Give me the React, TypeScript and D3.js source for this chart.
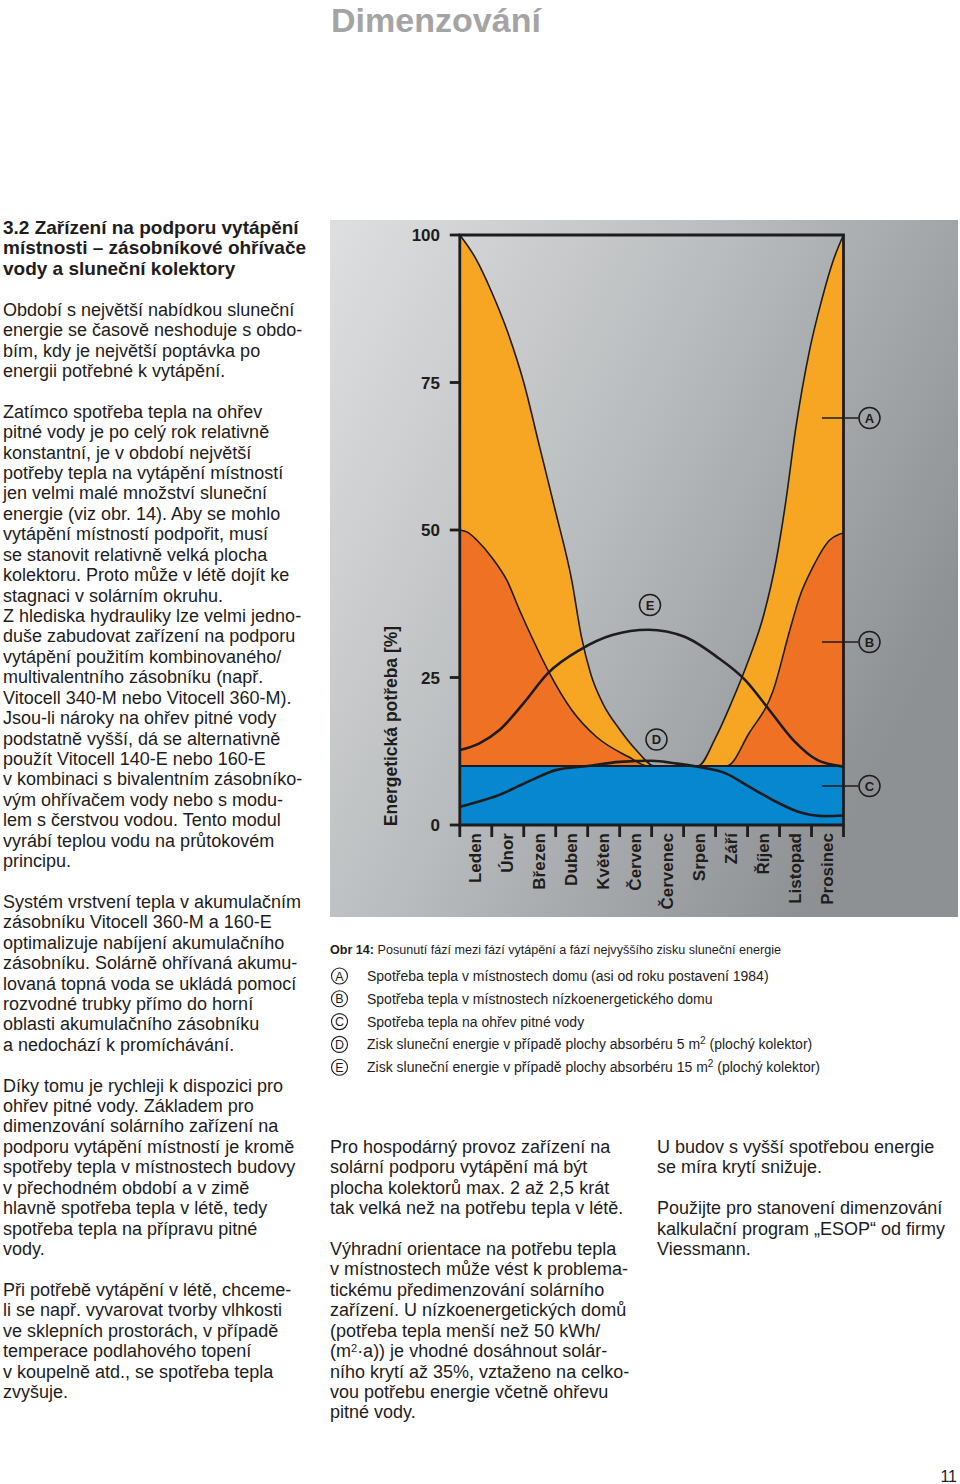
import React from 'react';
import * as d3 from 'd3';

// ---------- DATA ----------
const months = ['Leden', 'Únor', 'Březen', 'Duben', 'Květen', 'Červen', 'Červenec', 'Srpen', 'Září', 'Říjen', 'Listopad', 'Prosinec'];
const yTicks = [0, 25, 50, 75, 100];

// [month position 0..12, percent]
const seriesA: [number, number][] = [
  [0, 100], [0.5, 96], [1.0, 90.3], [1.5, 83.5], [2.0, 75], [2.5, 64], [3.0, 53], [3.5, 41.5], [3.8, 32],
  [4.1, 25.5], [4.5, 20.3], [5.0, 16.2], [5.5, 12.8], [6.1, 10], [7.45, 10], [8.0, 14.8], [8.5, 20.8],
  [9.0, 27.5], [9.5, 35.5], [9.9, 45], [10.2, 55], [10.5, 67], [10.94, 80.5], [11.32, 89], [11.7, 96], [12, 100],
];
const seriesB: [number, number][] = [
  [0, 50], [0.25, 49.6], [0.53, 48.3], [1.05, 45], [1.47, 41.5], [1.87, 36.4], [2.29, 31.4], [2.75, 26.3],
  [3.5, 19.5], [4.26, 15], [5.26, 11.6], [5.9, 10], [8.35, 10], [9.05, 15.6], [9.8, 22.8], [10.32, 33],
  [10.63, 38.7], [11.05, 43.8], [11.57, 48.3], [11.87, 49.3], [12, 49.5],
];
const seriesC: [number, number][] = [[0, 10], [6, 10], [12, 10]];
const seriesD: [number, number][] = [
  [0, 3.1], [0.6, 4], [1.24, 5.1], [1.8, 6.5], [2.24, 7.6], [3.0, 9.3], [4.0, 10], [5.0, 10.7], [6.0, 10.9],
  [6.8, 10.4], [7.4, 9.9], [8.3, 8.8], [9.05, 6.5], [9.8, 4.2], [10.56, 2.3], [11.44, 1.5], [12, 1.6],
];
const seriesE: [number, number][] = [
  [0, 12.7], [0.6, 13.8], [1.24, 16.1], [1.99, 20.6], [2.75, 25.7], [3.76, 29.7], [4.77, 32.2], [5.9, 33.1],
  [7.03, 31.9], [8.04, 28.5], [8.92, 24.6], [9.68, 19.5], [10.43, 14.4], [11.19, 11], [12, 9.9],
];

const legendKeys = ['A', 'B', 'C', 'D', 'E'];
const legendTexts = [
  'Spotřeba tepla v místnostech domu (asi od roku postavení 1984)',
  'Spotřeba tepla v místnostech nízkoenergetického domu',
  'Spotřeba tepla na ohřev pitné vody',
  'Zisk sluneční energie v případě plochy absorbéru 5 m|2| (plochý kolektor)',
  'Zisk sluneční energie v případě plochy absorbéru 15 m|2| (plochý kolektor)',
];

const leftColumn: [number, string, boolean?][] = [
  [0, '3.2 Zařízení na podporu vytápění', true],
  [1, 'místnosti – zásobníkové ohřívače', true],
  [2, 'vody a sluneční kolektory', true],
  [4, 'Období s největší nabídkou sluneční'],
  [5, 'energie se časově neshoduje s obdo-'],
  [6, 'bím, kdy je největší poptávka po'],
  [7, 'energii potřebné k vytápění.'],
  [9, 'Zatímco spotřeba tepla na ohřev'],
  [10, 'pitné vody je po celý rok relativně'],
  [11, 'konstantní, je v období největší'],
  [12, 'potřeby tepla na vytápění místností'],
  [13, 'jen velmi malé množství sluneční'],
  [14, 'energie (viz obr. 14). Aby se mohlo'],
  [15, 'vytápění místností podpořit, musí'],
  [16, 'se stanovit relativně velká plocha'],
  [17, 'kolektoru. Proto může v létě dojít ke'],
  [18, 'stagnaci v solárním okruhu.'],
  [19, 'Z hlediska hydrauliky lze velmi jedno-'],
  [20, 'duše zabudovat zařízení na podporu'],
  [21, 'vytápění použitím kombinovaného/'],
  [22, 'multivalentního zásobníku (např.'],
  [23, 'Vitocell 340-M nebo Vitocell 360-M).'],
  [24, 'Jsou-li nároky na ohřev pitné vody'],
  [25, 'podstatně vyšší, dá se alternativně'],
  [26, 'použít Vitocell 140-E nebo 160-E'],
  [27, 'v kombinaci s bivalentním zásobníko-'],
  [28, 'vým ohřívačem vody nebo s modu-'],
  [29, 'lem s čerstvou vodou. Tento modul'],
  [30, 'vyrábí teplou vodu na průtokovém'],
  [31, 'principu.'],
  [33, 'Systém vrstvení tepla v akumulačním'],
  [34, 'zásobníku Vitocell 360-M a 160-E'],
  [35, 'optimalizuje nabíjení akumulačního'],
  [36, 'zásobníku. Solárně ohřívaná akumu-'],
  [37, 'lovaná topná voda se ukládá pomocí'],
  [38, 'rozvodné trubky přímo do horní'],
  [39, 'oblasti akumulačního zásobníku'],
  [40, 'a nedochází k promíchávání.'],
  [42, 'Díky tomu je rychleji k dispozici pro'],
  [43, 'ohřev pitné vody. Základem pro'],
  [44, 'dimenzování solárního zařízení na'],
  [45, 'podporu vytápění místností je kromě'],
  [46, 'spotřeby tepla v místnostech budovy'],
  [47, 'v přechodném období a v zimě'],
  [48, 'hlavně spotřeba tepla v létě, tedy'],
  [49, 'spotřeba tepla na přípravu pitné'],
  [50, 'vody.'],
  [52, 'Při potřebě vytápění v létě, chceme-'],
  [53, 'li se např. vyvarovat tvorby vlhkosti'],
  [54, 've sklepních prostorách, v případě'],
  [55, 'temperace podlahového topení'],
  [56, 'v koupelně atd., se spotřeba tepla'],
  [57, 'zvyšuje.'],
];

const midColumn: [number, string][] = [
  [45, 'Pro hospodárný provoz zařízení na'],
  [46, 'solární podporu vytápění má být'],
  [47, 'plocha kolektorů max. 2 až 2,5 krát'],
  [48, 'tak velká než na potřebu tepla v létě.'],
  [50, 'Výhradní orientace na potřebu tepla'],
  [51, 'v místnostech může vést k problema-'],
  [52, 'tickému předimenzování solárního'],
  [53, 'zařízení. U nízkoenergetických domů'],
  [54, '(potřeba tepla menší než 50 kWh/'],
  [55, '(m|2|·a)) je vhodné dosáhnout solár-'],
  [56, 'ního krytí až 35%, vztaženo na celko-'],
  [57, 'vou potřebu energie včetně ohřevu'],
  [58, 'pitné vody.'],
];

const rightColumn: [number, string][] = [
  [45, 'U budov s vyšší spotřebou energie'],
  [46, 'se míra krytí snižuje.'],
  [48, 'Použijte pro stanovení dimenzování'],
  [49, 'kalkulační program „ESOP“ od firmy'],
  [50, 'Viessmann.'],
];

// ---------- LAYOUT ----------
const FONT = "'Liberation Sans', Arial, Helvetica, sans-serif";
const INK = '#1e1c1c';
const LINE0 = 234;
const LH = 20.42;

function renderSup(s: string, supSize: number) {
  const parts = s.split('|');
  return parts.map((p, i) =>
    i % 2 === 1 ? (
      <tspan key={i} fontSize={supSize} dy={-5}>{p}</tspan>
    ) : (
      <tspan key={i} dy={i > 0 ? 5 : 0}>{p}</tspan>
    )
  );
}

export default function App() {
  const x = d3.scaleLinear().domain([0, 12]).range([459.8, 843.5]);
  const y = d3.scaleLinear().domain([0, 100]).range([825, 235]);
  const band = d3.scaleBand<string>().domain(months).range([459.8, 843.5]);

  const area = d3.area<[number, number]>()
    .x((d) => x(d[0]))
    .y0(y(0))
    .y1((d) => y(d[1]))
    .curve(d3.curveMonotoneX);
  const line = d3.line<[number, number]>()
    .x((d) => x(d[0]))
    .y((d) => y(d[1]))
    .curve(d3.curveMonotoneX);

  const boundaries = months.map((m) => band(m) as number).concat([x(12)]);

  const calloutX1 = 822, calloutX2 = 858.5, calloutCx = 869.5;
  const callouts: [string, number][] = [['A', 418], ['B', 642], ['C', 786]];

  return (
    <svg width={960} height={1484} style={{ position: 'absolute', left: 0, top: 0, background: '#fff' }} fontFamily={FONT}>
      <defs>
        <linearGradient id="bg" x1="0" y1="0" x2="1" y2="0.55">
          <stop offset="0" stopColor="#DEDFE0" />
          <stop offset="0.5" stopColor="#B9BCBE" />
          <stop offset="1" stopColor="#8E9194" />
        </linearGradient>
      </defs>

      {/* Page title */}
      <text x={331} y={32} fontSize={34} fontWeight="bold" fill="#A4A4A4" textLength={210} lengthAdjust="spacingAndGlyphs">Dimenzování</text>

      {/* Left column */}
      {leftColumn.map(([k, t, b]) => (
        <text key={'l' + k} x={3} y={LINE0 + k * LH} fontSize={b ? 19 : 18} fontWeight={b ? 'bold' : 'normal'} fill={INK}>{t}</text>
      ))}

      {/* Chart panel */}
      <rect x={330} y={220} width={628} height={697} fill="url(#bg)" />

      <path d={area(seriesA) as string} fill="#F6A623" />
      <path d={area(seriesB) as string} fill="#EF7124" />
      <path d={area(seriesC) as string} fill="#0787CF" />

      <path d={line(seriesA) as string} fill="none" stroke={INK} strokeWidth={1.6} />
      <path d={line(seriesB) as string} fill="none" stroke={INK} strokeWidth={1.6} />
      <path d={line(seriesC) as string} fill="none" stroke={INK} strokeWidth={2.2} />
      <path d={line(seriesD) as string} fill="none" stroke={INK} strokeWidth={2.6} />
      <path d={line(seriesE) as string} fill="none" stroke={INK} strokeWidth={2.6} />

      {/* Frame */}
      <path d={`M${x(0)},${y(0)}V${y(100)}H${x(12)}V${y(0)}Z`} fill="none" stroke={INK} strokeWidth={2.8} />

      {/* Y ticks */}
      {yTicks.map((t) => (
        <g key={'yt' + t}>
          <line x1={x(0) - 10} x2={x(0)} y1={y(t)} y2={y(t)} stroke={INK} strokeWidth={2.8} />
          <text x={440} y={y(t)} dy="0.36em" textAnchor="end" fontSize={17} fontWeight="bold" fill={INK}>{t}</text>
        </g>
      ))}

      {/* X ticks */}
      {boundaries.map((bx, i) => (
        <line key={'xt' + i} x1={bx} x2={bx} y1={y(0)} y2={y(0) + 12} stroke={INK} strokeWidth={2.8} />
      ))}
      {months.map((m) => (
        <text key={m} transform={`translate(${(band(m) as number) + band.bandwidth() / 2},833) rotate(-90)`} dy="0.3em"
          textAnchor="end" fontSize={17} fontWeight="bold" fill={INK}>{m}</text>
      ))}

      {/* Y axis title */}
      <text transform="translate(391,726) rotate(-90)" dy="0.36em" textAnchor="middle" fontSize={17.5} fontWeight="bold" fill={INK}>Energetická potřeba [%]</text>

      {/* Callouts */}
      {callouts.map(([k, cy]) => (
        <g key={'c' + k}>
          <line x1={calloutX1} x2={calloutX2} y1={cy} y2={cy} stroke={INK} strokeWidth={1.3} />
          <circle cx={calloutCx} cy={cy} r={10.5} fill="none" stroke={INK} strokeWidth={1.5} />
          <text x={calloutCx} y={cy} dy="0.36em" textAnchor="middle" fontSize={13} fontWeight="bold" fill={INK}>{k}</text>
        </g>
      ))}
      {([['E', 650, 605], ['D', 656.5, 739.5]] as [string, number, number][]).map(([k, cx, cy]) => (
        <g key={'c' + k}>
          <circle cx={cx} cy={cy} r={10.5} fill="none" stroke={INK} strokeWidth={1.5} />
          <text x={cx} y={cy} dy="0.36em" textAnchor="middle" fontSize={13} fontWeight="bold" fill={INK}>{k}</text>
        </g>
      ))}

      {/* Caption */}
      <text x={330} y={953.5} fontSize={13} fill={INK} textLength={451} lengthAdjust="spacingAndGlyphs">
        <tspan fontWeight="bold">Obr 14:</tspan> Posunutí fází mezi fází vytápění a fází nejvyššího zisku sluneční energie
      </text>

      {/* Legend */}
      {legendKeys.map((k, i) => {
        const cy = 976 + i * 22.8;
        return (
          <g key={'lg' + k}>
            <circle cx={339.5} cy={cy} r={8} fill="none" stroke={INK} strokeWidth={1.1} />
            <text x={339.5} y={cy} dy="0.36em" textAnchor="middle" fontSize={12.5} fill={INK}>{k}</text>
            <text x={367} y={cy + 5} fontSize={14} fill={INK}>{renderSup(legendTexts[i], 10)}</text>
          </g>
        );
      })}

      {/* Middle and right columns */}
      {midColumn.map(([k, t]) => (
        <text key={'m' + k} x={330} y={LINE0 + k * LH} fontSize={18} fill={INK}>{renderSup(t, 11)}</text>
      ))}
      {rightColumn.map(([k, t]) => (
        <text key={'r' + k} x={657} y={LINE0 + k * LH} fontSize={18} fill={INK}>{t}</text>
      ))}

      {/* Page number */}
      <text x={957} y={1482} textAnchor="end" fontSize={16} fill={INK}>11</text>
    </svg>
  );
}
